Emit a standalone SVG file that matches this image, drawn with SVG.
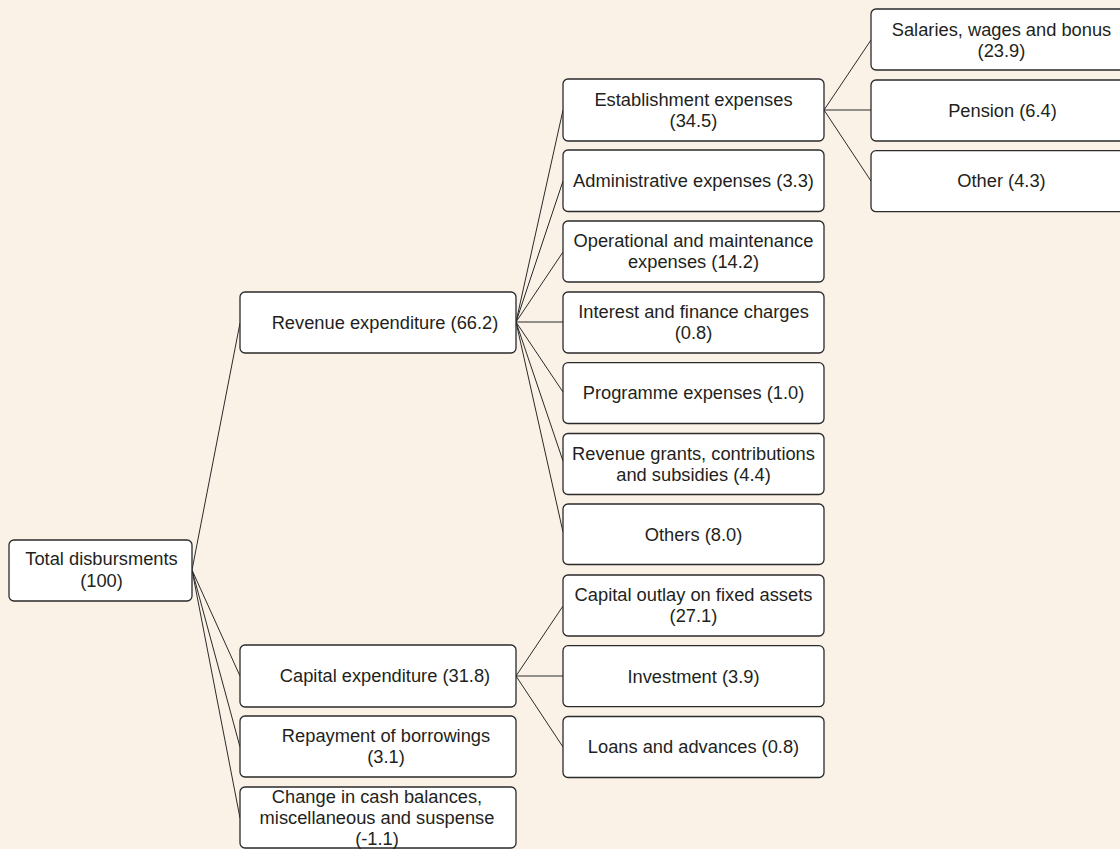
<svg xmlns="http://www.w3.org/2000/svg" width="1120" height="849" viewBox="0 0 1120 849">
<style>
.bg{fill:#faf2e7}
.box{fill:#ffffff;stroke:#2a2a2a;stroke-width:1.3}
.lbl{font-family:"Liberation Sans",Arial,sans-serif;font-size:18.3px;fill:#231f20;text-anchor:middle}
.con line{stroke:#2a2a2a;stroke-width:1;fill:none}
</style>
<rect class="bg" x="0" y="0" width="1120" height="849"/>
<g id="connectors" class="con">
<line x1="192" y1="570" x2="240" y2="323"/>
<line x1="192" y1="570" x2="240" y2="676"/>
<line x1="192" y1="570" x2="240" y2="747"/>
<line x1="192" y1="570" x2="240" y2="818"/>
<line x1="516" y1="322" x2="563" y2="110"/>
<line x1="516" y1="322" x2="563" y2="181"/>
<line x1="516" y1="322" x2="563" y2="252"/>
<line x1="516" y1="322" x2="563" y2="322"/>
<line x1="516" y1="322" x2="563" y2="392"/>
<line x1="516" y1="322" x2="563" y2="461"/>
<line x1="516" y1="322" x2="563" y2="532"/>
<line x1="824" y1="110" x2="871" y2="40"/>
<line x1="824" y1="110" x2="871" y2="110"/>
<line x1="824" y1="110" x2="871" y2="181"/>
<line x1="516" y1="676" x2="563" y2="606"/>
<line x1="516" y1="676" x2="563" y2="676"/>
<line x1="516" y1="676" x2="563" y2="747"/>
</g>
<g id="total">
<rect class="box" x="9" y="540" width="183" height="61" rx="5"/>
<text class="lbl" x="101.5" y="565">Total disbursments</text>
<text class="lbl" x="101.5" y="586.5">(100)</text>
</g>
<g id="revenue">
<rect class="box" x="240" y="292" width="276" height="61" rx="5"/>
<text class="lbl" x="385" y="329">Revenue expenditure (66.2)</text>
</g>
<g id="capital">
<rect class="box" x="240" y="645" width="276" height="62" rx="5"/>
<text class="lbl" x="385" y="682">Capital expenditure (31.8)</text>
</g>
<g id="repayment">
<rect class="box" x="240" y="716" width="276" height="61" rx="5"/>
<text class="lbl" x="386" y="742">Repayment of borrowings</text>
<text class="lbl" x="386" y="763">(3.1)</text>
</g>
<g id="cash">
<rect class="box" x="240" y="787" width="276" height="61" rx="5"/>
<text class="lbl" x="377" y="803">Change in cash balances,</text>
<text class="lbl" x="377" y="824">miscellaneous and suspense</text>
<text class="lbl" x="377" y="845">(-1.1)</text>
</g>
<g id="establishment">
<rect class="box" x="563" y="79" width="261" height="62" rx="5"/>
<text class="lbl" x="693.5" y="105.7">Establishment expenses</text>
<text class="lbl" x="693.5" y="127">(34.5)</text>
</g>
<g id="administrative">
<rect class="box" x="563" y="150" width="261" height="61.5" rx="5"/>
<text class="lbl" x="693.5" y="187">Administrative expenses (3.3)</text>
</g>
<g id="operational">
<rect class="box" x="563" y="221" width="261" height="61" rx="5"/>
<text class="lbl" x="693.5" y="246.7">Operational and maintenance</text>
<text class="lbl" x="693.5" y="267.5">expenses (14.2)</text>
</g>
<g id="interest">
<rect class="box" x="563" y="292" width="261" height="61" rx="5"/>
<text class="lbl" x="693.5" y="317.5">Interest and finance charges</text>
<text class="lbl" x="693.5" y="338.5">(0.8)</text>
</g>
<g id="programme">
<rect class="box" x="563" y="362.7" width="261" height="60.8" rx="5"/>
<text class="lbl" x="693.5" y="399">Programme expenses (1.0)</text>
</g>
<g id="grants">
<rect class="box" x="563" y="433.5" width="261" height="61" rx="5"/>
<text class="lbl" x="693.5" y="459.5">Revenue grants, contributions</text>
<text class="lbl" x="693.5" y="480.5">and subsidies (4.4)</text>
</g>
<g id="others">
<rect class="box" x="563" y="504" width="261" height="60.5" rx="5"/>
<text class="lbl" x="693.5" y="540.5">Others (8.0)</text>
</g>
<g id="outlay">
<rect class="box" x="563" y="575" width="261" height="61" rx="5"/>
<text class="lbl" x="693.5" y="600.5">Capital outlay on fixed assets</text>
<text class="lbl" x="693.5" y="621.5">(27.1)</text>
</g>
<g id="investment">
<rect class="box" x="563" y="645.7" width="261" height="61" rx="5"/>
<text class="lbl" x="693.5" y="682.5">Investment (3.9)</text>
</g>
<g id="loans">
<rect class="box" x="563" y="716.5" width="261" height="61" rx="5"/>
<text class="lbl" x="693.5" y="753">Loans and advances (0.8)</text>
</g>
<g id="salaries">
<rect class="box" x="871" y="9" width="262" height="61" rx="5"/>
<text class="lbl" x="1001.5" y="36">Salaries, wages and bonus</text>
<text class="lbl" x="1001.5" y="57">(23.9)</text>
</g>
<g id="pension">
<rect class="box" x="871" y="80" width="262" height="61" rx="5"/>
<text class="lbl" x="1002.5" y="116.5">Pension (6.4)</text>
</g>
<g id="other">
<rect class="box" x="871" y="150.7" width="262" height="61" rx="5"/>
<text class="lbl" x="1001.5" y="187">Other (4.3)</text>
</g>
</svg>
